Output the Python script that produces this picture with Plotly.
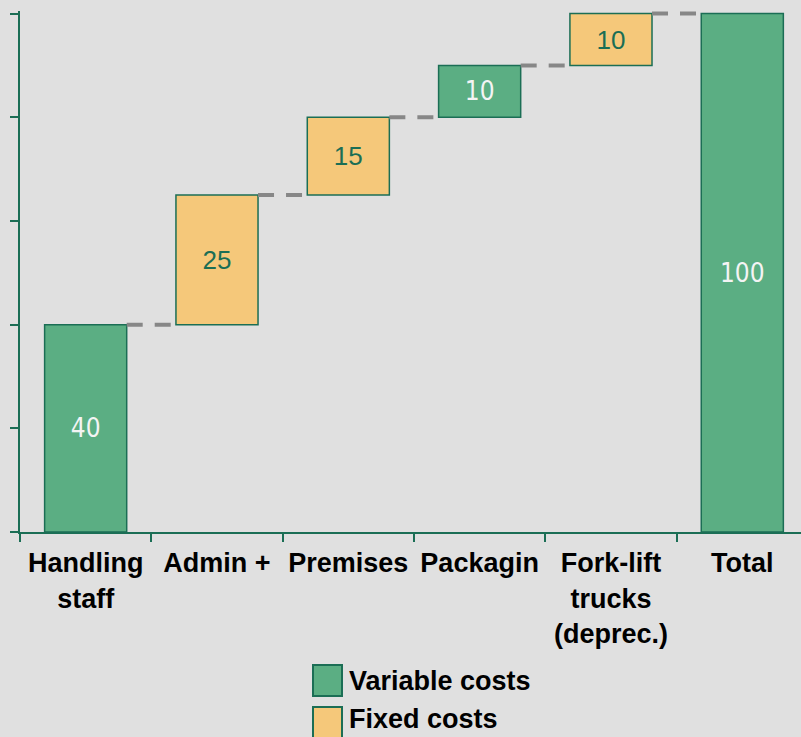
import plotly.graph_objects as go

categories = ["Handling<br>staff", "Admin +", "Premises", "Packagin", "Fork-lift<br>trucks<br>(deprec.)", "Total"]
values = [40, 25, 15, 10, 10, 100]
cost_type = ["Variable costs", "Fixed costs", "Fixed costs", "Variable costs", "Fixed costs", "Variable costs"]
is_total = [False, False, False, False, False, True]
y_ticks = [0, 20, 40, 60, 80, 100]

GREEN = "#5bae83"
YELLOW = "#f5c87a"
DARK = "#1b6e55"
GRAY = "#878787"
BG = "#e0e0e0"
BAR_W = 0.625

# cumulative bases
bases, tops = [], []
run = 0
for v, t in zip(values, is_total):
    if t:
        bases.append(0)
        tops.append(v)
    else:
        bases.append(run)
        run += v
        tops.append(run)

fig = go.Figure()
styles = {
    "Variable costs": dict(fill=GREEN, tcolor="#f4f4f4", tfam="Liberation Sans Narrow, Arial Narrow, DejaVu Sans Condensed, sans-serif", tsize=26),
    "Fixed costs": dict(fill=YELLOW, tcolor=DARK, tfam="Liberation Sans, Arial, sans-serif", tsize=26),
}
for name, st in styles.items():
    idx = [i for i, c in enumerate(cost_type) if c == name]
    fig.add_trace(go.Bar(
        name=name,
        x=[categories[i] for i in idx],
        y=[values[i] for i in idx],
        base=[bases[i] for i in idx],
        text=[str(values[i]) for i in idx],
        textposition="inside",
        insidetextanchor="middle",
        textangle=0,
        constraintext="none",
        textfont=dict(color=st["tcolor"], family=st["tfam"], size=st["tsize"]),
        marker=dict(color=st["fill"], line=dict(color=DARK, width=1.5)),
        width=BAR_W,
        showlegend=False,
        hoverinfo="skip",
    ))

# dashed connectors
shapes = []
for i in range(len(values) - 1):
    y = tops[i]
    shapes.append(dict(type="line", xref="x", yref="y",
                       x0=i + BAR_W / 2, x1=i + 1 - BAR_W / 2, y0=y, y1=y,
                       line=dict(color=GRAY, width=4, dash="16px,12px")))

# custom legend (paper coords; plot area spans x 20..801, y 11..532 px)
def px_x(p):
    return (p - 20) / 781.0

def px_y(p):
    return (532 - p) / 521.0

legend_items = [("Variable costs", GREEN, 665, 696), ("Fixed costs", YELLOW, 707, 738)]
annotations = []
for label, col, top, bot in legend_items:
    shapes.append(dict(type="rect", xref="paper", yref="paper",
                       x0=px_x(313), x1=px_x(342), y0=px_y(bot), y1=px_y(top),
                       fillcolor=col, line=dict(color=DARK, width=2)))
    annotations.append(dict(xref="paper", yref="paper", x=px_x(347), y=px_y(min((top + bot) / 2, 719)),
                            text=label, showarrow=False, xanchor="left", yanchor="middle",
                            font=dict(family="Liberation Sans, Arial, sans-serif", size=27, color="black", weight="bold")))

fig.update_layout(
    width=801, height=737,
    margin=dict(l=20, r=0, t=11, b=205),
    paper_bgcolor=BG, plot_bgcolor=BG,
    barmode="overlay",
    shapes=shapes,
    annotations=annotations,
    showlegend=False,
    xaxis=dict(
        type="category", categoryorder="array", categoryarray=categories,
        range=[-0.5, 5.447],
        tickson="boundaries", ticks="outside", ticklen=8, tickwidth=2, tickcolor=DARK,
        showline=True, linecolor=DARK, linewidth=2,
        showgrid=False, zeroline=False,
        ticklabelstandoff=6,
        tickfont=dict(family="Liberation Sans, Arial, sans-serif", size=27, color="black", weight="bold"),
    ),
    yaxis=dict(
        range=[0, 100.5], tickvals=y_ticks, showticklabels=False,
        ticks="outside", ticklen=8, tickwidth=2, tickcolor=DARK,
        showline=True, linecolor=DARK, linewidth=2,
        showgrid=False, zeroline=False,
    ),
)

fig.write_html("out.html", config={"displayModeBar": False},
               post_script="document.body.style.margin='0';document.body.style.background='#e0e0e0';")
